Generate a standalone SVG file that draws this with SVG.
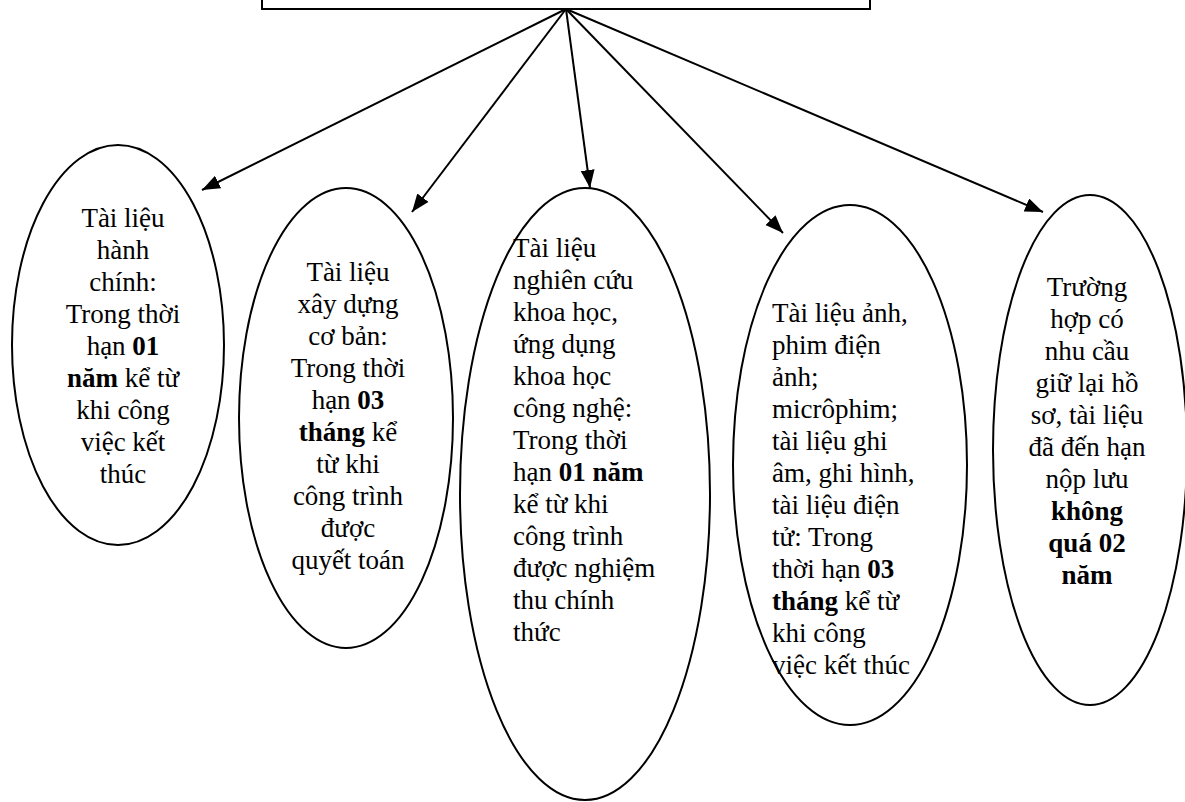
<svg xmlns="http://www.w3.org/2000/svg" width="1185" height="802" viewBox="0 0 1185 802">
  <style>
    .shape { fill: #ffffff; stroke: #000000; stroke-width: 2; }
    .link { fill: none; stroke: #000000; stroke-width: 2; }
    .label { font-family: "Liberation Serif", "Times New Roman", serif; font-size: 27px; fill: #000000; }
    .mid { text-anchor: middle; }
    .b { font-weight: bold; }
  </style>
  <defs>
    <marker id="head" markerUnits="userSpaceOnUse" markerWidth="20" markerHeight="16" refX="18" refY="7" orient="auto">
      <path d="M0,0 L18,7 L0,14 Z" fill="#000000"/>
    </marker>
  </defs>
  <rect width="1185" height="802" fill="#ffffff"/>

  <!-- top box, mostly above the page edge -->
  <g id="root">
    <rect class="shape" x="262" y="-30" width="608" height="39"/>
  </g>

  <!-- connectors fanning out from the bottom of the top box -->
  <g id="connectors">
    <line class="link" x1="566" y1="9" x2="202" y2="190" marker-end="url(#head)"/>
    <line class="link" x1="566" y1="9" x2="412" y2="212" marker-end="url(#head)"/>
    <line class="link" x1="566" y1="9" x2="590" y2="188" marker-end="url(#head)"/>
    <line class="link" x1="566" y1="9" x2="783" y2="233" marker-end="url(#head)"/>
    <line class="link" x1="566" y1="9" x2="1043" y2="212" marker-end="url(#head)"/>
  </g>

  <g id="node-hanh-chinh">
    <ellipse class="shape" cx="118" cy="345" rx="106" ry="200"/>
    <text class="label mid" x="123" y="227">Tài liệu</text>
    <text class="label mid" x="123" y="259">hành</text>
    <text class="label mid" x="123" y="291">chính:</text>
    <text class="label mid" x="123" y="323">Trong thời</text>
    <text class="label mid" x="123" y="355">hạn <tspan class="b">01</tspan></text>
    <text class="label mid" x="123" y="387"><tspan class="b">năm</tspan> kể từ</text>
    <text class="label mid" x="123" y="419">khi công</text>
    <text class="label mid" x="123" y="451">việc kết</text>
    <text class="label mid" x="123" y="483">thúc</text>
  </g>

  <g id="node-xay-dung">
    <ellipse class="shape" cx="346" cy="418" rx="107" ry="230"/>
    <text class="label mid" x="348" y="281">Tài liệu</text>
    <text class="label mid" x="348" y="313">xây dựng</text>
    <text class="label mid" x="348" y="345">cơ bản:</text>
    <text class="label mid" x="348" y="377">Trong thời</text>
    <text class="label mid" x="348" y="409">hạn <tspan class="b">03</tspan></text>
    <text class="label mid" x="348" y="441"><tspan class="b">tháng</tspan> kể</text>
    <text class="label mid" x="348" y="473">từ khi</text>
    <text class="label mid" x="348" y="505">công trình</text>
    <text class="label mid" x="348" y="537">được</text>
    <text class="label mid" x="348" y="569">quyết toán</text>
  </g>

  <g id="node-khoa-hoc">
    <ellipse class="shape" cx="585" cy="494" rx="125" ry="306"/>
    <text class="label" x="513" y="257">Tài liệu</text>
    <text class="label" x="513" y="289">nghiên cứu</text>
    <text class="label" x="513" y="321">khoa học,</text>
    <text class="label" x="513" y="353">ứng dụng</text>
    <text class="label" x="513" y="385">khoa học</text>
    <text class="label" x="513" y="417">công nghệ:</text>
    <text class="label" x="513" y="449">Trong thời</text>
    <text class="label" x="513" y="481">hạn <tspan class="b">01 năm</tspan></text>
    <text class="label" x="513" y="513">kể từ khi</text>
    <text class="label" x="513" y="545">công trình</text>
    <text class="label" x="513" y="577">được nghiệm</text>
    <text class="label" x="513" y="609">thu chính</text>
    <text class="label" x="513" y="641">thức</text>
  </g>

  <g id="node-anh-phim">
    <ellipse class="shape" cx="850" cy="465" rx="117" ry="260"/>
    <text class="label" x="772" y="322">Tài liệu ảnh,</text>
    <text class="label" x="772" y="354">phim điện</text>
    <text class="label" x="772" y="386">ảnh;</text>
    <text class="label" x="772" y="418">micrôphim;</text>
    <text class="label" x="772" y="450">tài liệu ghi</text>
    <text class="label" x="772" y="482">âm, ghi hình,</text>
    <text class="label" x="772" y="514">tài liệu điện</text>
    <text class="label" x="772" y="546">tử: Trong</text>
    <text class="label" x="772" y="578">thời hạn <tspan class="b">03</tspan></text>
    <text class="label" x="772" y="610"><tspan class="b">tháng</tspan> kể từ</text>
    <text class="label" x="772" y="642">khi công</text>
    <text class="label" x="772" y="674">việc kết thúc</text>
  </g>

  <g id="node-giu-lai">
    <ellipse class="shape" cx="1090" cy="450" rx="97" ry="255"/>
    <text class="label mid" x="1087" y="296">Trường</text>
    <text class="label mid" x="1087" y="328">hợp có</text>
    <text class="label mid" x="1087" y="360">nhu cầu</text>
    <text class="label mid" x="1087" y="392">giữ lại hồ</text>
    <text class="label mid" x="1087" y="424">sơ, tài liệu</text>
    <text class="label mid" x="1087" y="456">đã đến hạn</text>
    <text class="label mid" x="1087" y="488">nộp lưu</text>
    <text class="label mid b" x="1087" y="520">không</text>
    <text class="label mid b" x="1087" y="552">quá 02</text>
    <text class="label mid b" x="1087" y="584">năm</text>
  </g>
</svg>
